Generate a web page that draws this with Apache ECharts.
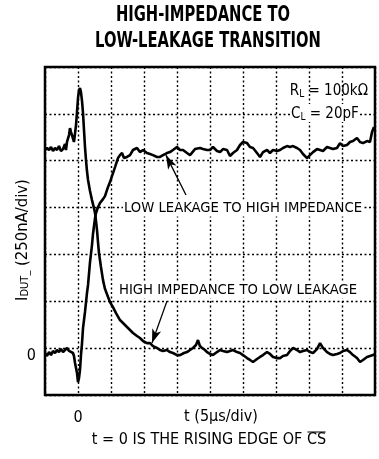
<!DOCTYPE html>
<html>
<head>
<meta charset="utf-8">
<script src="https://cdn.jsdelivr.net/npm/echarts@6/dist/echarts.min.js"></script>
<style>
  html, body { margin: 0; padding: 0; background: #fff; }
  #chart { width: 379px; height: 459px; }
</style>
</head>
<body>
<div id="chart"></div>
<script>
// scope trace: time in us (5us/div), current in nA (250nA/div)
const hzToLlTime = [-5.00, -4.70, -4.39, -4.09, -3.79, -3.48, -3.18, -2.88, -2.58, -2.27, -1.97, -1.82, -1.67, -1.52, -1.36, -1.21, -1.06, -0.91, -0.76, -0.61, -0.45, -0.30, -0.15, 0, 0.15, 0.30, 0.45, 0.61, 0.76, 0.91, 1.06, 1.21, 1.36, 1.52, 1.82, 2.12, 2.42, 2.58, 2.73, 2.88, 3.03, 3.18, 3.48, 3.79, 4.09, 4.55, 4.85, 5.30, 5.76, 6.36, 6.82, 7.42, 7.88, 8.33, 8.94, 9.39, 9.85, 10.45, 10.91, 11.36, 11.97, 12.42, 12.88, 13.48, 13.94, 14.39, 15.00, 15.45, 16.06, 16.52, 16.97, 17.42, 17.88, 18.18, 18.48, 18.79, 19.24, 19.55, 20.00, 20.45, 21.06, 21.52, 21.97, 22.58, 23.03, 23.48, 24.09, 24.55, 25.00, 25.61, 26.06, 26.52, 27.12, 27.58, 28.03, 28.64, 29.09, 29.55, 30.15, 30.61, 31.06, 31.67, 32.12, 32.58, 33.18, 33.64, 34.09, 34.70, 35.15, 35.61, 36.21, 36.67, 37.12, 37.73, 38.18, 38.64, 39.24, 39.70, 40.15, 40.76, 41.21, 41.67, 42.27, 42.73, 43.18, 43.79, 44.24, 44.70, 45.00]
const hzToLlCurrent = [1057, 1068, 1057, 1073, 1052, 1068, 1057, 1078, 1052, 1062, 1089, 1057, 1100, 1100, 1137, 1174, 1153, 1137, 1147, 1100, 1110, 1190, 1260, 1334, 1377, 1388, 1366, 1318, 1254, 1163, 1073, 1004, 945, 897, 838, 790, 747, 721, 678, 630, 566, 507, 433, 363, 316, 273, 246, 219, 187, 150, 134, 113, 97, 81, 65, 54, 38, 27, 27, 11, 1, -10, -15, -10, -21, -26, -37, -37, -26, -21, -10, 1, 17, 43, 11, 1, -10, -21, -31, -37, -21, -10, -15, -21, -15, -10, -21, -26, -37, -53, -63, -74, -58, -47, -37, -21, -31, -47, -53, -53, -42, -37, -15, 1, -10, -21, -15, -10, -21, -26, -5, 27, 1, -21, -31, -37, -31, -26, -15, -10, -21, -37, -53, -74, -63, -47, -42, -37, -31]

const llToHzTime = [-5.00, -4.70, -4.39, -4.09, -3.79, -3.48, -3.18, -2.88, -2.58, -2.27, -1.97, -1.67, -1.36, -1.06, -0.76, -0.61, -0.45, -0.30, -0.15, 0, 0.15, 0.30, 0.45, 0.61, 0.76, 1.06, 1.36, 1.52, 1.82, 2.12, 2.27, 2.58, 2.73, 3.03, 3.33, 3.79, 4.09, 4.55, 4.85, 5.15, 5.61, 6.06, 6.36, 6.67, 6.97, 7.12, 7.42, 7.88, 8.33, 8.94, 9.39, 9.85, 10.45, 10.91, 11.36, 11.97, 12.42, 12.88, 13.48, 13.94, 14.39, 15.00, 15.45, 15.91, 16.52, 16.97, 17.73, 18.48, 18.94, 19.55, 20.00, 20.45, 21.06, 21.52, 21.97, 22.58, 23.03, 23.48, 24.09, 24.55, 25.00, 25.61, 26.06, 26.52, 27.12, 27.58, 28.03, 28.64, 29.09, 29.55, 30.15, 30.61, 31.06, 31.67, 32.12, 32.58, 33.18, 33.64, 34.09, 34.70, 35.15, 35.61, 36.21, 36.67, 37.12, 37.73, 38.18, 38.64, 39.24, 39.70, 40.15, 40.76, 41.21, 41.67, 42.27, 42.73, 43.18, 43.79, 44.24, 44.55, 44.85]
const llToHzCurrent = [-26, -42, -21, -37, -15, -26, -10, -21, -5, -21, -10, 1, -15, -10, -26, -42, -79, -106, -133, -181, -160, -117, -37, 27, 107, 193, 294, 337, 459, 550, 609, 694, 721, 753, 774, 795, 811, 860, 886, 918, 966, 1014, 1030, 1041, 1014, 1004, 1020, 1030, 1057, 1068, 1046, 1057, 1041, 1036, 1030, 1020, 1020, 1030, 1041, 1046, 1057, 1073, 1057, 1057, 1041, 1030, 1062, 1068, 1062, 1057, 1057, 1073, 1052, 1046, 1062, 1057, 1025, 1041, 1057, 1084, 1100, 1094, 1073, 1068, 1041, 1020, 1046, 1057, 1041, 1057, 1052, 1057, 1068, 1078, 1073, 1078, 1068, 1057, 1036, 1014, 1030, 1046, 1062, 1057, 1052, 1073, 1068, 1062, 1068, 1094, 1078, 1084, 1100, 1105, 1121, 1100, 1094, 1105, 1100, 1153, 1180]

// tick labels and annotation arrows (start -> tip), same units
const xLabelValues = [0]
const yLabelValues = [0]
const arrowToHighZ = [[16.36, 817], [13.33, 1030]]
const arrowToLowLeak = [[13.48, 251], [11.21, 27]]

const NARROW = '"Liberation Sans Narrow", "DejaVu Sans Condensed", "Arial Narrow", sans-serif'
const noteMain = 't = 0 IS THE RISING EDGE OF '
const noteBar = 'CS'

function zip(xs, ys) {
  return xs.map((x, i) => [x, ys[i]])
}

function arrowLine(pts) {
  return [
    { coord: pts[0], symbol: 'none' },
    { coord: pts[1], symbol: 'arrow', symbolSize: [7, 14] }
  ]
}

// measure the footnote so the overline sits on CS
const ctx = document.createElement('canvas').getContext('2d')
ctx.font = '16px ' + NARROW
const wMain = ctx.measureText(noteMain).width
const wBar = ctx.measureText(noteBar).width
const noteLeft = 209 - (wMain + wBar) / 2

const chart = echarts.init(document.getElementById('chart'))

const subRich = {
  a: { fontSize: 15, fontFamily: NARROW, color: '#000', lineHeight: 18, verticalAlign: 'bottom' },
  b: { fontSize: 10, fontFamily: NARROW, color: '#000', lineHeight: 9, verticalAlign: 'bottom' }
}
const nameRich = {
  a: { fontSize: 16.5, fontFamily: NARROW, color: '#000', lineHeight: 19, verticalAlign: 'bottom' },
  b: { fontSize: 11, fontFamily: NARROW, color: '#000', lineHeight: 9, verticalAlign: 'bottom' }
}

const option = {
  animation: false,
  backgroundColor: '#fff',
  grid: {
    left: 45,
    right: 4,
    top: 67,
    bottom: 64,
    outerBoundsMode: 'none',
    show: true,
    borderColor: '#000',
    borderWidth: 2.5
  },
  xAxis: {
    type: 'value',
    min: -5,
    max: 45,
    interval: 5,
    name: 't (5µs/div)',
    nameLocation: 'middle',
    nameGap: 14,
    nameMoveOverlap: false,
    nameTextStyle: { fontFamily: NARROW, fontSize: 16, color: '#000', padding: [0, 0, 0, 22] },
    axisLine: { show: false },
    axisTick: { show: false },
    axisLabel: {
      margin: 15,
      fontFamily: NARROW,
      fontSize: 16,
      color: '#000',
      formatter: (v) => (xLabelValues.includes(v) ? String(v) : '')
    },
    splitLine: { show: true, lineStyle: { color: '#000', width: 1.4, type: [2, 2.5] } }
  },
  yAxis: {
    type: 'value',
    min: -250,
    max: 1500,
    interval: 250,
    name: '{a|I}{b|DUT_}{a| (250nA/div)}',
    nameLocation: 'middle',
    nameGap: 14,
    nameRotate: 90,
    nameMoveOverlap: false,
    nameTextStyle: { rich: nameRich, padding: [0, 18, 0, 0] },
    axisLine: { show: false },
    axisTick: { show: false },
    axisLabel: {
      margin: 9,
      fontFamily: NARROW,
      fontSize: 16,
      color: '#000',
      verticalAlign: 'top',
      formatter: (v) => (yLabelValues.includes(v) ? String(v) : '')
    },
    splitLine: { show: true, lineStyle: { color: '#000', width: 1.4, type: [2, 2.5] } }
  },
  series: [
    {
      name: 'HIGH IMPEDANCE TO LOW LEAKAGE',
      type: 'line',
      data: zip(hzToLlTime, hzToLlCurrent),
      showSymbol: false,
      lineStyle: { color: '#000', width: 2.6 },
      markLine: {
        silent: true,
        label: { show: false },
        lineStyle: { color: '#000', width: 1.3, type: 'solid' },
        data: [arrowLine(arrowToLowLeak)]
      }
    },
    {
      name: 'LOW LEAKAGE TO HIGH IMPEDANCE',
      type: 'line',
      data: zip(llToHzTime, llToHzCurrent),
      showSymbol: false,
      lineStyle: { color: '#000', width: 2.6 },
      markLine: {
        silent: true,
        label: { show: false },
        lineStyle: { color: '#000', width: 1.3, type: 'solid' },
        data: [arrowLine(arrowToHighZ)]
      }
    }
  ],
  graphic: [
    // condensed bold title
    {
      type: 'text', x: 203, y: 16, scaleX: 0.8, z: 100,
      style: {
        text: 'HIGH-IMPEDANCE TO', font: 'bold 20.5px ' + NARROW, fill: '#000',
        align: 'center', verticalAlign: 'middle'
      }
    },
    {
      type: 'text', x: 208, y: 42, scaleX: 0.8, z: 100,
      style: {
        text: 'LOW-LEAKAGE TRANSITION', font: 'bold 20.5px ' + NARROW, fill: '#000',
        align: 'center', verticalAlign: 'middle'
      }
    },
    {
      type: 'text', x: 243, y: 208, z: 100,
      style: {
        text: 'LOW LEAKAGE TO HIGH IMPEDANCE', font: '14.7px ' + NARROW, fill: '#000',
        align: 'center', verticalAlign: 'middle', backgroundColor: '#fff', padding: [1, 1]
      }
    },
    {
      type: 'text', x: 238, y: 290, z: 100,
      style: {
        text: 'HIGH IMPEDANCE TO LOW LEAKAGE', font: '14.7px ' + NARROW, fill: '#000',
        align: 'center', verticalAlign: 'middle', backgroundColor: '#fff', padding: [1, 1]
      }
    },
    {
      type: 'text', x: 368, y: 90, z: 100,
      style: {
        text: '{a|R}{b|L}{a| = 100kΩ}', rich: subRich,
        align: 'right', verticalAlign: 'middle'
      }
    },
    {
      type: 'text', x: 290, y: 113, z: 100,
      style: {
        text: '{a|C}{b|L}{a| = 20pF}', rich: subRich,
        align: 'left', verticalAlign: 'middle', backgroundColor: '#fff', padding: [0, 1]
      }
    },
    {
      type: 'text', x: noteLeft, y: 440, z: 100,
      style: { text: noteMain, font: '16px ' + NARROW, fill: '#000', align: 'left', verticalAlign: 'middle' }
    },
    {
      type: 'text', x: noteLeft + wMain, y: 440, z: 100,
      style: { text: noteBar, font: '16px ' + NARROW, fill: '#000', align: 'left', verticalAlign: 'middle' }
    },
    {
      type: 'line', z: 100,
      shape: { x1: noteLeft + wMain + 0.5, y1: 432, x2: noteLeft + wMain + wBar - 0.5, y2: 432 },
      style: { stroke: '#000', lineWidth: 1 }
    }
  ]
}

chart.setOption(option)
</script>
</body>
</html>
